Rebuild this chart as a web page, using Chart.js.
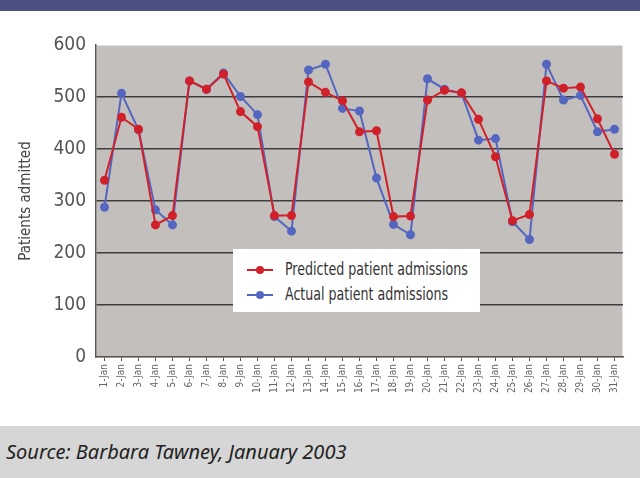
<!DOCTYPE html>
<html lang="en">
  <head>
    <meta charset="UTF-8" />
    <title>Patients admitted</title>
    <script src="https://cdn.jsdelivr.net/npm/chart.js"></script>
    <style>
      html, body { margin: 0; padding: 0; background: #fff; }
      body { width: 640px; height: 478px; position: relative; overflow: hidden; }
      .topband { position: absolute; left: 0; top: 0; width: 640px; height: 11px; background: #4a5080; }
      .wrap { position: absolute; left: 0; top: 0; width: 640px; height: 426px; }
      .source {
        position: absolute; left: 0; top: 426px; width: 640px; height: 52px;
        background: #d6d6d6; font-family: "Noto Sans", sans-serif; font-style: italic;
        font-size: 20px; color: #222; line-height: 52px; padding-left: 6px; box-sizing: border-box;
      }
      .legend {
        position: absolute; left: 233px; top: 249px; width: 247px; height: 63px;
        background: #fff; box-sizing: border-box; padding: 7px 0 0 14px;
        font-family: "DejaVu Sans Condensed", sans-serif;
        font-size: 18px; color: #333;
      }
      .legend div { height: 25px; line-height: 25px; white-space: nowrap; }
      .legend span.mk { display: inline-block; position: relative; width: 26px; height: 2px; vertical-align: middle; margin-right: 12px; }
      .legend span.mk i { position: absolute; left: 9px; top: -3px; width: 8px; height: 8px; border-radius: 50%; }
      .legend span.tx { display: inline-block; transform: scaleX(0.78); transform-origin: left center; }
    </style>
  </head>
  <body>
    <div class="topband"></div>
    <div class="wrap"><canvas id="c" width="640" height="426"></canvas></div>
    <div class="legend" id="legend"></div>
    <div class="source">Source: Barbara Tawney, January 2003</div>
    <script>
      const days = [];
      for (let d = 1; d <= 31; d++) days.push(d + "-Jan");

      const predicted = [340, 461, 438, 254, 272, 531, 515, 544, 472, 443,
                         272, 272, 529, 509, 493, 433, 435, 270, 271, 494,
                         513, 508, 457, 385, 262, 274, 531, 517, 519, 458, 390];
      const actual = [288, 507, 437, 283, 254, 531, 515, 546, 501, 466,
                      270, 242, 552, 563, 478, 473, 344, 255, 235, 535,
                      515, 507, 417, 420, 260, 226, 563, 494, 503, 433, 438];

      const yTicks = [0, 100, 200, 300, 400, 500, 600];

      const narrow = '"DejaVu Sans Condensed", sans-serif';

      const plotBg = {
        id: "plotBg",
        beforeDraw(chart) {
          const { ctx, chartArea: a } = chart;
          ctx.save();
          ctx.fillStyle = "#c2bfbc";
          ctx.fillRect(a.left, a.top, a.right - a.left, a.bottom - a.top);
          ctx.strokeStyle = "#e2e0de";
          ctx.lineWidth = 1;
          ctx.strokeRect(a.left + 0.5, a.top + 0.5, a.right - a.left - 1, a.bottom - a.top);
          ctx.restore();
        },
      };

      const chart = new Chart(document.getElementById("c"), {
        type: "line",
        data: {
          labels: days,
          datasets: [
            {
              label: "Predicted patient admissions",
              data: predicted,
              borderColor: "#d0202a",
              backgroundColor: "#d0202a",
              borderWidth: 2,
              pointRadius: 3.5,
              tension: 0,
            },
            {
              label: "Actual patient admissions",
              data: actual,
              borderColor: "#5566c0",
              backgroundColor: "#5566c0",
              borderWidth: 2,
              pointRadius: 3.5,
              tension: 0,
            },
          ],
        },
        options: {
          responsive: false,
          animation: false,
          layout: { padding: { top: 45, right: 17, left: 0, bottom: 0 } },
          plugins: { legend: { display: false }, tooltip: { enabled: false } },
          scales: {
            x: {
              offset: true,
              grid: { display: true, drawOnChartArea: false, drawTicks: true, tickLength: 4, color: "#555", offset: false },
              border: { color: "#555", width: 1.5 },
              ticks: {
                autoSkip: false, minRotation: 90, maxRotation: 90,
                color: "#666", padding: 3,
                font: { family: narrow, size: 10 },
              },
              afterFit(s) { s.height = 69; },
            },
            y: {
              min: 0, max: 600,
              afterBuildTicks(s) { s.ticks = yTicks.map((v) => ({ value: v })); },
              grid: {
                color: (c) => (c.tick.value > 0 && c.tick.value < 600 ? "#3e3e3e" : "rgba(0,0,0,0)"),
                lineWidth: 1.5,
                drawTicks: false,
              },
              border: { color: "#555", width: 1.5 },
              ticks: {
                color: "#555", padding: 10,
                font: { family: narrow, size: 19 },
              },
              title: {
                display: true, text: "Patients admitted", color: "#444",
                font: { family: narrow, size: 15 }, padding: { top: 17, bottom: 0 },
              },
              afterFit(s) { s.width = 96; },
            },
          },
        },
        plugins: [plotBg],
      });

      const legend = document.getElementById("legend");
      chart.data.datasets.forEach((ds) => {
        const row = document.createElement("div");
        row.innerHTML = '<span class="mk" style="background:' + ds.borderColor + '"><i style="background:' +
          ds.borderColor + '"></i></span><span class="tx">' + ds.label + "</span>";
        legend.appendChild(row);
      });
    </script>
  </body>
</html>
